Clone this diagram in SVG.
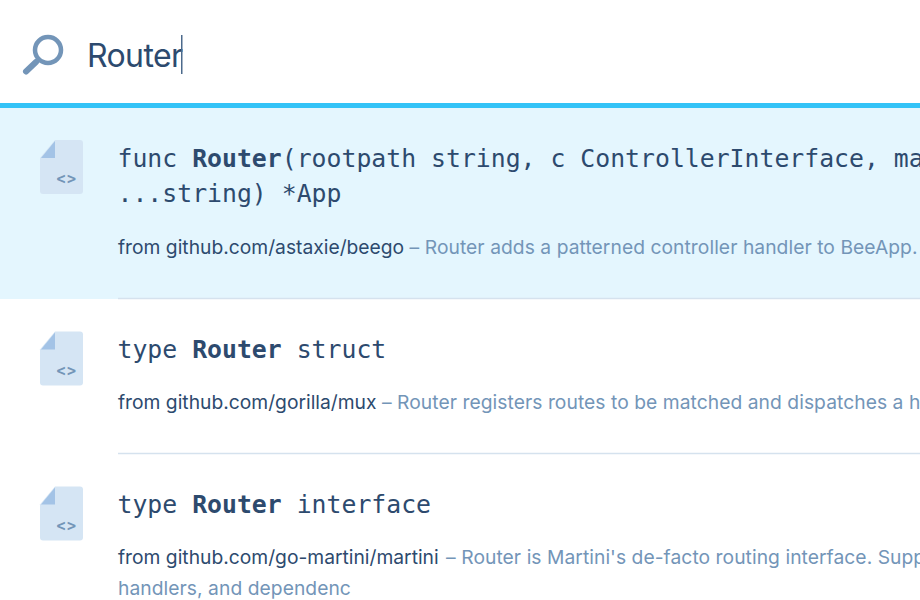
<svg xmlns="http://www.w3.org/2000/svg" width="920" height="600" viewBox="0 0 920 600">
<style>
.m{font-family:"DejaVu Sans Mono",monospace;font-size:24.8px;fill:#2d4a6e}
.b{font-weight:700}
.s{font-family:"Inter","Liberation Sans",sans-serif;font-size:19.25px}
.d{fill:#2d4a6e}
.g{fill:#7395b8;letter-spacing:.05px}
.f{fill:#d5e5f4}
.c{fill:#a3c3e6}
.k{font-family:"DejaVu Sans Mono",monospace;font-size:15px;font-weight:700;fill:#7395b8;letter-spacing:1.500px}
.l{stroke:#d5e2ee;stroke-width:1.5}
</style>
<defs>
<g id="doc">
<path class="f" d="M15 0H40a3 3 0 0 1 3 3V51a3 3 0 0 1-3 3H3a3 3 0 0 1-3-3V18Z"/>
<path class="c" d="M15 1V18H1Z"/>
<text class="k" x="27" y="44" text-anchor="middle">&lt;&gt;</text>
</g>
</defs>
<rect width="920" height="600" fill="#fff"/>
<g id="search">
<circle cx="48" cy="50" r="13" fill="none" stroke="#7395b8" stroke-width="4.500"/>
<path d="M36 62L26 71.500" stroke="#7395b8" stroke-width="6" stroke-linecap="round"/>
<text x="87" y="67" font-family="Inter,'Liberation Sans',sans-serif" font-size="32" letter-spacing="-.6" fill="#2d4a6e">Router</text>
<rect x="181" y="35" width="1.500" height="39" fill="#4c6a8c"/>
</g>
<rect y="103" width="920" height="5" fill="#33c3f7"/>
<g id="result-1">
<rect y="108" width="920" height="191" fill="#e4f6fe"/>
<use href="#doc" x="40" y="140"/>
<text class="m" x="117.500" y="167">func <tspan class="b">Router</tspan>(rootpath string, c ControllerInterface, ma</text>
<text class="m" x="117.500" y="202">...string) *App</text>
<text class="s" x="118" y="254"><tspan class="d">from github.com/astaxie/beego</tspan><tspan class="g"> – Router adds a patterned controller handler to BeeApp.</tspan></text>
</g>
<line class="l" x1="118" y1="298.500" x2="920" y2="298.500"/>
<g id="result-2">
<use href="#doc" x="40" y="331.500"/>
<text class="m" x="117.500" y="358">type <tspan class="b">Router</tspan> struct</text>
<text class="s" x="118" y="409"><tspan class="d">from github.com/gorilla/mux</tspan><tspan class="g"> – Router registers routes to be matched and dispatches a h</tspan></text>
</g>
<line class="l" x1="118" y1="453.500" x2="920" y2="453.500"/>
<g id="result-3">
<use href="#doc" x="40" y="486.500"/>
<text class="m" x="117.500" y="513">type <tspan class="b">Router</tspan> interface</text>
<text class="s" x="118" y="564"><tspan class="d">from github.com/go-martini/martini</tspan><tspan class="g" dx="2"> – Router is Martini's de-facto routing interface. Supp</tspan></text>
<text class="s g" x="118" y="595">handlers, and dependenc</text>
</g>
</svg>
